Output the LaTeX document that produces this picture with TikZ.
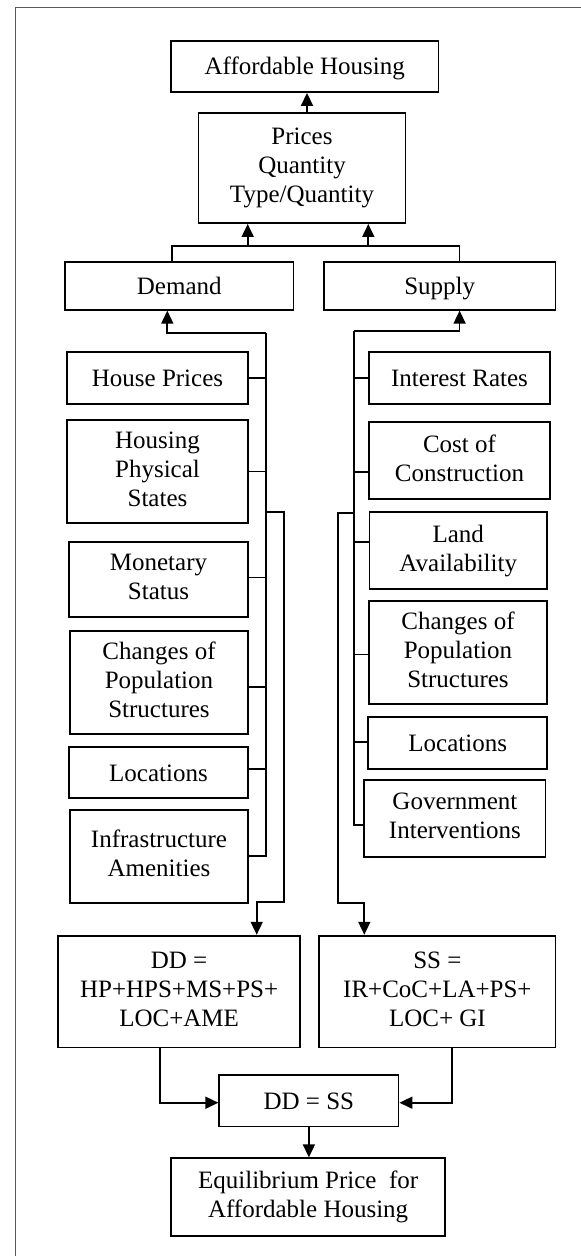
\documentclass[tikz,border=0pt]{standalone}
\usepackage{fontspec}
\setmainfont{Liberation Serif}
\usetikzlibrary{arrows.meta}

\begin{document}
\begin{tikzpicture}[x=1pt,y=-1pt,
  blk/.style={draw, line width=1.9, align=center, inner sep=0pt,
    font=\fontsize{25}{29}\selectfont,
    execute at begin node=\rule{0pt}{22.5pt},
    execute at end node=\rule[-5.5pt]{0pt}{5.5pt}},
  sz/.style 2 args={minimum width=#1pt, minimum height=#2pt},
  con/.style={line width=1.7},
  arr/.style={con, -{Triangle[length=13pt,width=12pt]}}]

\useasboundingbox (0,0) rectangle (581,1256);
\draw[black!65, line width=1.2]
  (581,7.5) -- (15.5,7.5) -- (15.5,1256);

\node[blk, sz={267.5}{51.3}] (aff) at (304.75,66.35) {Affordable Housing};
\node[blk, sz={207}{109.7}] (prices) at (302,168.15)
  {Prices\\Quantity\\Type/Quantity};
\node[blk, sz={228.5}{47.7}] (dem) at (179.25,285.85) {Demand};
\node[blk, sz={231.5}{47.7}] (sup) at (439.75,285.85) {Supply};

\node[blk, sz={181}{51.4}] (hp) at (157.5,378) {House Prices};
\node[blk, sz={181}{103}] (hps) at (157.5,471.5) {Housing\\Physical\\States};
\node[blk, sz={179}{75.3}] (ms) at (158.5,579.35) {Monetary\\Status};
\node[blk, sz={178}{103}] (cpl) at (159,682.8)
  {Changes of\\Population\\Structures};
\node[blk, sz={179}{51.3}] (locl) at (158.5,772.65) {Locations};
\node[blk, sz={178}{92.7}] (infra) at (159,856.35) {Infrastructure\\Amenities};

\node[blk, sz={181}{51.4}] (ir) at (459.5,378) {Interest Rates};
\node[blk, sz={181}{77.3}] (coc) at (459.5,460.65) {Cost of\\Construction};
\node[blk, sz={177.5}{77.3}] (land) at (458.25,550.65) {Land\\Availability};
\node[blk, sz={178}{103.3}] (cpr) at (458,652.35)
  {Changes of\\Population\\Structures};
\node[blk, sz={179.4}{52}] (locr) at (457.7,743.3) {Locations};
\node[blk, sz={181.1}{77}] (gov) at (454.95,818.5) {Government\\Interventions};

\node[blk, sz={242.3}{111.8}] (dd) at (179.15,991.6)
  {DD =\\HP+HPS+MS+PS+\\LOC+AME};
\node[blk, sz={236.2}{111.8}] (ss) at (437.4,991.6)
  {SS =\\IR+CoC+LA+PS+\\LOC+ GI};
\node[blk, sz={179.2}{51.3}] (eq) at (308.9,1100.85) {DD = SS};
\node[blk, sz={274.3}{77.7}] (price) at (308.15,1197.15)
  {Equilibrium Price \ for\\Affordable Housing};

% top of the tree
\draw[arr] ([xshift=5pt]prices.north) -- ([xshift=2.25pt]aff.south);
\coordinate (jl) at (171.7,246);
\coordinate (jr) at (459.6,246);
\coordinate (pl) at (247.7,246);
\coordinate (pr) at (368.3,246);
\draw[con] (dem.north -| jl) -- (jl) -- (jr) -- (sup.north -| jr);
\draw[arr] (pl) -- (prices.south -| pl);
\draw[arr] (pr) -- (prices.south -| pr);

% demand side
\coordinate (dl) at (167.3,333.3);
\coordinate (dt) at (266.3,333.3);
\coordinate (db) at (266.3,856.3);
\draw[arr] (dt) -- (dl) -- (dem.south -| dl);
\draw[con] (dt) -- (db) -- (infra.east |- db);
\foreach \n/\dy in {hp/0,hps/0,ms/2,cpl/-3.9,locl/3.6}{
  \path ([yshift=\dy pt]\n.east) coordinate (tmp);
  \draw[con] (tmp) -- (tmp -| dt);
}
\coordinate (d2a) at (283.7,512);
\coordinate (d2b) at (283.7,901.7);
\coordinate (d2c) at (256.7,901.7);
\draw[arr] (dt |- d2a) -- (d2a) -- (d2b) -- (d2c) -- (dd.north -| d2c);

% supply side
\coordinate (st) at (353.7,330.7);
\coordinate (sr) at (459.6,330.7);
\draw[arr] (st) -- (sr) -- (sup.south -| sr);
\path ([yshift=-6.8pt]gov.west) coordinate (gv);
\draw[con] (st) -- (st |- gv) -- (gv);
\foreach \n/\dy in {ir/0,coc/-11,land/9,cpr/-2,locr/1.3}{
  \path ([yshift=\dy pt]\n.west) coordinate (tmp);
  \draw[con] (tmp) -- (tmp -| st);
}
\coordinate (s2a) at (337.7,513.3);
\coordinate (s2b) at (337.7,903.3);
\coordinate (s2c) at (364.3,903.3);
\draw[arr] (st |- s2a) -- (s2a) -- (s2b) -- (s2c) -- (ss.north -| s2c);

% equilibrium
\coordinate (ddl) at (159.7,1102.7);
\coordinate (ssl) at (451.7,1102.7);
\draw[arr] (dd.south -| ddl) -- (ddl) -- (eq.west |- ddl);
\draw[arr] (ss.south -| ssl) -- (ssl) -- (eq.east |- ssl);
\draw[arr] (eq.south) -- (price.north -| eq.south);
\end{tikzpicture}
\end{document}
